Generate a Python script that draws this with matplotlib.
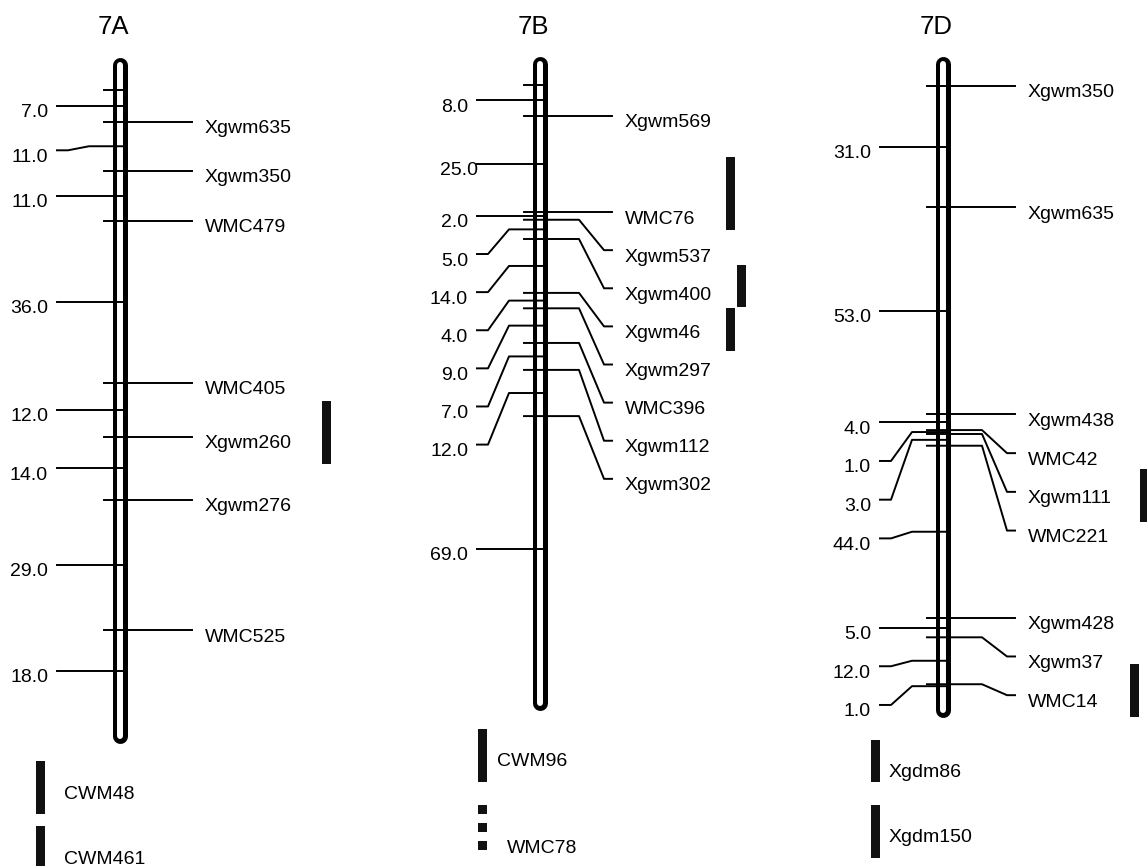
import matplotlib
matplotlib.use("Agg")
import matplotlib.pyplot as plt

plt.rcParams['font.family'] = ['Liberation Sans', 'DejaVu Sans']

chromosomes = ["7A", "7B", "7D"]

# distances (cM) between neighbouring loci, read top to bottom
intervals = {
    "7A": [7.0, 11.0, 11.0, 36.0, 12.0, 14.0, 29.0, 18.0],
    "7B": [8.0, 25.0, 2.0, 5.0, 14.0, 4.0, 9.0, 7.0, 12.0, 69.0],
    "7D": [31.0, 53.0, 4.0, 1.0, 3.0, 44.0, 5.0, 12.0, 1.0],
}
# locus names ('' = unnamed locus)
markers = {
    "7A": ["", "Xgwm635", "Xgwm350", "WMC479", "WMC405", "Xgwm260", "Xgwm276", "WMC525"],
    "7B": ["", "Xgwm569", "WMC76", "Xgwm537", "Xgwm400", "Xgwm46", "Xgwm297",
           "WMC396", "Xgwm112", "Xgwm302"],
    "7D": ["Xgwm350", "Xgwm635", "Xgwm438", "WMC42", "Xgwm111", "WMC221",
           "Xgwm428", "Xgwm37", "WMC14"],
}
# QTL intervals on each chromosome (start cM, end cM)
qtl = {
    "7A": [(69.0, 83.0)],
    "7B": [(18.7, 37.7), (46.8, 57.7), (57.9, 69.1)],
    "7D": [(98.0, 111.5), (147.8, 161.4)],
}
# key below the maps
key_names = ["CWM48", "CWM461", "CWM96", "WMC78", "Xgdm86", "Xgdm150"]
key_dashed = [False, False, False, True, False, False]

# ---- layout (pixels) ----
W, H = 1147, 866
centre_px = {"7A": 120, "7B": 540, "7D": 943}
top_px = {"7A": 90, "7B": 85, "7D": 86}
px_per_cm = {"7A": 4.5, "7B": 3.85, "7D": 3.91}
qtl_dx = {"7A": [206.5], "7B": [190.5, 201.5, 190.5], "7D": [201.5, 191.5]}
label_nudge = {("7B", 1): 10}
key_x = [40, 40, 482.5, 482.5, 875.5, 875.5]
key_y = [(761, 814), (826, 880), (729, 782), (805, 850), (740, 782), (805, 858)]
key_label_x = [64, 64, 497, 507, 889, 889]
key_label_y = [792, 856.5, 759, 846, 770, 835]
gap_cm = 9.9
pad_cm = 5.5
fs = 14
lw = 1.4


def spread(pos, gap):
    out = []
    for p in pos:
        if out and p < out[-1] + gap:
            p = out[-1] + gap
        out.append(p)
    return out


fig = plt.figure(figsize=(W / 100, H / 100), dpi=100)

# pixel axes for titles and key
kx = fig.add_axes([0, 0, 1, 1])
kx.set_xlim(0, W)
kx.set_ylim(H, 0)
kx.axis("off")

for name in chromosomes:
    c = centre_px[name]
    s = px_per_cm[name]
    t0 = top_px[name]
    ax = fig.add_axes([0, 0, 1, 1], label=name)
    ax.set_xlim(0, W)
    ax.set_ylim((H - t0) / s, -t0 / s)
    ax.axis("off")
    ax.patch.set_alpha(0)

    pos = [0.0]
    for d in intervals[name][:-1]:
        pos.append(pos[-1] + d)
    end = pos[-1] + intervals[name][-1]
    mids = [(pos[i] + (pos[i + 1] if i + 1 < len(pos) else end)) / 2
            for i in range(len(pos))]

    # chromosome body
    ax.plot([c, c], [-pad_cm, end + pad_cm], color="black", lw=10.8,
            solid_capstyle="round", zorder=1)
    ax.plot([c, c], [-pad_cm, end + pad_cm], color="white", lw=4.3,
            solid_capstyle="round", zorder=2)

    # interval distances on the left
    lab = spread(mids, gap_cm)
    for i, (m, l) in enumerate(zip(mids, lab)):
        ax.plot([c + 4, c - 31, c - 52, c - 63], [m, m, l, l], color="black",
                lw=lw, zorder=3)
        ax.annotate(f"{intervals[name][i]:.1f}",
                    xy=(c - 72 + label_nudge.get((name, i), 0), l),
                    xytext=(0, -11.5), textcoords="offset pixels",
                    ha="right", va="baseline", fontsize=fs)

    # loci on the right
    named = [i for i, n in enumerate(markers[name]) if n]
    lab = spread([pos[i] for i in named], gap_cm)
    for i in range(len(pos)):
        if not markers[name][i]:
            ax.plot([c - 16, c + 4], [pos[i], pos[i]], color="black", lw=lw, zorder=3)
    for i, l in zip(named, lab):
        p = pos[i]
        ax.plot([c - 16, c + 39, c + 64, c + 72], [p, p, l, l], color="black",
                lw=lw, zorder=3)
        ax.annotate(markers[name][i], xy=(c + 85, l), xytext=(0, -11.5),
                    textcoords="offset pixels", ha="left", va="baseline",
                    fontsize=fs)

    # QTL bars
    for (a, b), dx in zip(qtl[name], qtl_dx[name]):
        ax.bar(c + dx, b - a, bottom=a, width=9, color="#111111", zorder=3)

    kx.text(c - 7, 34, name, ha="center", va="baseline", fontsize=18.5)

# key
for n, x, (y0, y1), lx, ly, dashed in zip(key_names, key_x, key_y, key_label_x,
                                          key_label_y, key_dashed):
    if dashed:
        seg = (y1 - y0) / 5
        for k in range(3):
            kx.bar(x, seg, bottom=y0 + 2 * k * seg, width=9, color="#111111")
    else:
        kx.bar(x, y1 - y0, bottom=y0, width=9, color="#111111")
    kx.text(lx, ly + 7, n, ha="left", va="baseline", fontsize=fs)

fig.savefig("out.png", dpi=100)
